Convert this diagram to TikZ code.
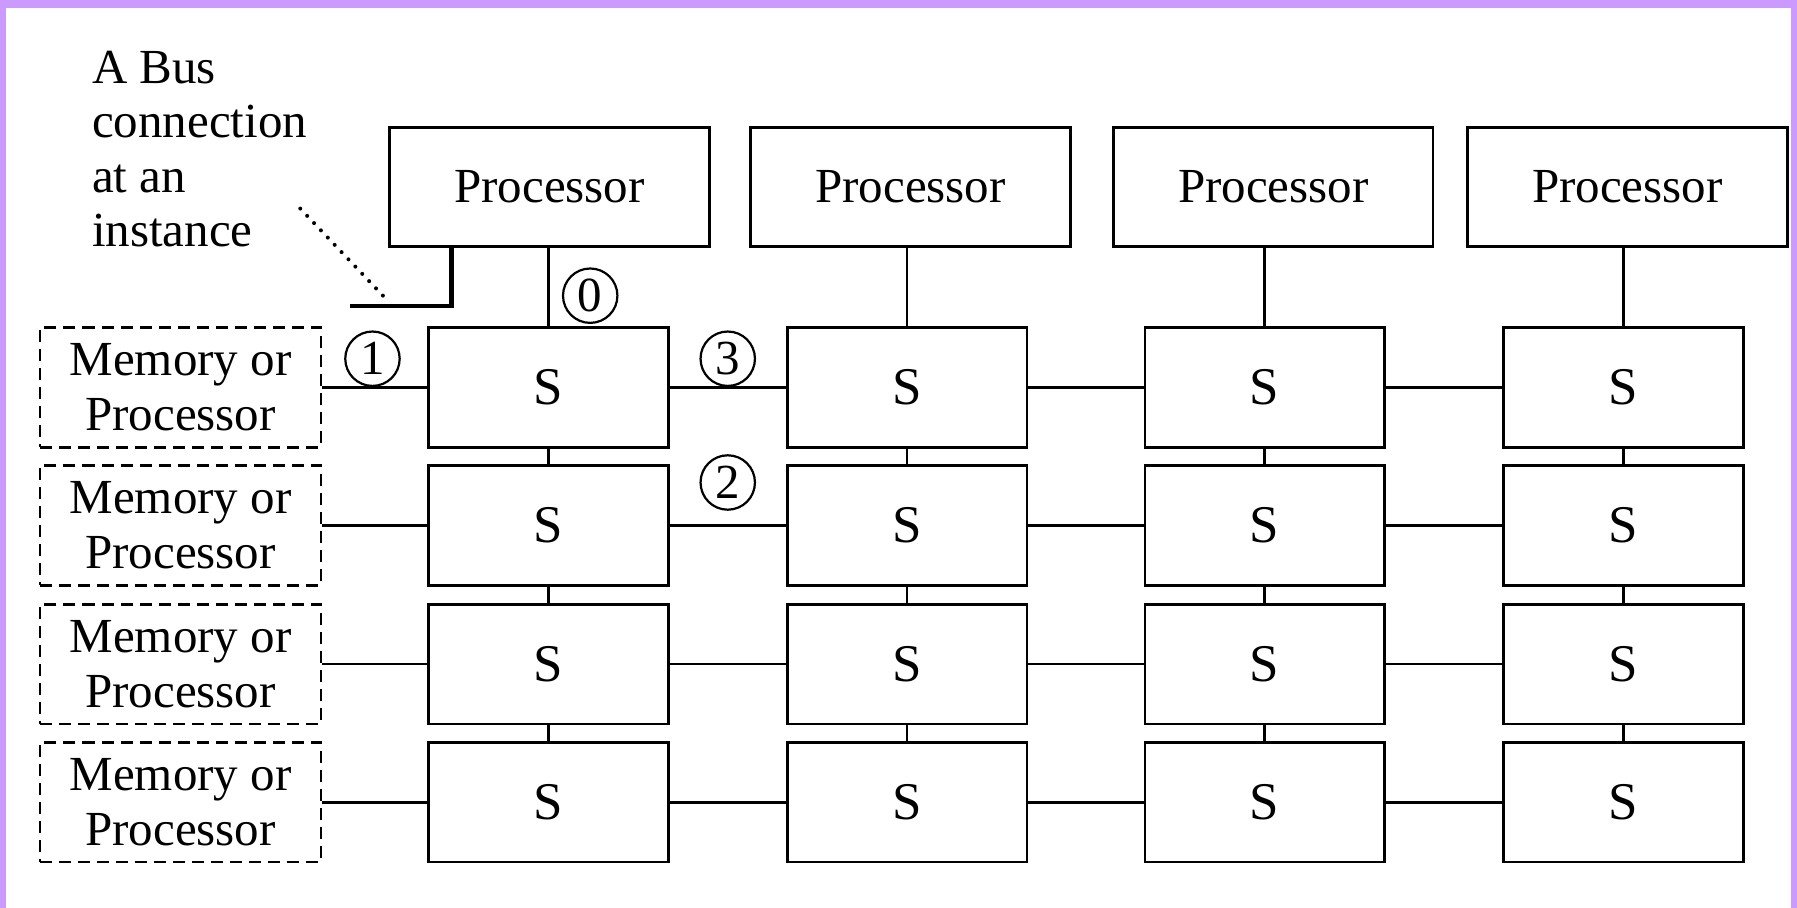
\documentclass[tikz,border=0pt]{standalone}
\usepackage{fontspec}
\setmainfont{Liberation Serif}
\definecolor{framepurple}{RGB}{204,153,255}
\begin{document}
\begin{tikzpicture}[x=0.573pt,y=-0.573pt,
  txt/.style={font=\fontsize{24.5}{27.3}\selectfont},
  box/.style={draw,line width=1.3pt,rectangle,inner sep=0pt,txt},
  proc/.style={box,minimum width=159.9pt,minimum height=59.6pt},
  sw/.style={box,minimum width=119.8pt,minimum height=59.9pt,font=\fontsize{26.5}{28}\selectfont},
  mem/.style={box,dash pattern=on 6pt off 3.5pt,minimum width=140.4pt,minimum height=59.9pt,align=center},
  tag/.style={circle,draw,line width=1.1pt,minimum size=27.2pt,inner sep=0pt,txt},
  wire/.style={line width=1.3pt},
  bus/.style={line width=2.2pt},
  leader/.style={line width=2pt,dash pattern=on 0pt off 5pt,line cap=round}]

% page and purple frame
\fill[white] (0,0) rectangle (1568,792);
\fill[framepurple] (0,0) rectangle (1568,7);
\fill[framepurple] (0,0) rectangle (5,792);
\fill[framepurple] (1563,0) rectangle (1568,792);
\useasboundingbox (0,0) rectangle (1568,792);

% processors along the top
\foreach \c/\x in {1/479.5,2/794.5,3/1111,4/1420}
  \node[proc] (p\c) at (\x,163) {Processor};

% switch grid
\foreach \r/\y in {1/338,2/458.5,3/579.5,4/700}{
  \foreach \c/\x in {1/478.5,2/791.5,3/1103.5,4/1416.5}
    \node[sw] (s\r\c) at (\x,\y) {S};
  \node[mem] (m\r) at (157.5,\y) {Memory or\\Processor};
}

% processor to first switch row
\foreach \c in {1,...,4}
  \draw[wire] (s1\c.north) -- (s1\c.north |- p\c.south);

% row links
\foreach \r in {1,...,4}{
  \draw[wire] (m\r.east) -- (s\r1.west);
  \draw[wire] (s\r1.east) -- (s\r2.west);
  \draw[wire] (s\r2.east) -- (s\r3.west);
  \draw[wire] (s\r3.east) -- (s\r4.west);
}

% column links
\foreach \r [evaluate=\r as \n using int(\r+1)] in {1,2,3}
  \foreach \c in {1,...,4}
    \draw[wire] (s\r\c.south) -- (s\n\c.north);

% bus connection callout
\coordinate (bustop) at (394,215);
\coordinate (busend) at (305,267);
\draw[bus] (bustop) |- (busend);
\node[txt,anchor=north west,align=left,inner sep=0pt] (note) at (80,44)
  {A Bus\\connection\\at an\\instance};
\coordinate (leadA) at (262,182);
\coordinate (leadB) at (337,261);
\draw[leader] (leadA) -- (leadB);

% numbered tags
\node[tag] (t0) at (515,258) {0};
\node[tag] (t1) at (325,313) {1};
\node[tag] (t3) at (635,313) {3};
\node[tag] (t2) at (635,421) {2};
\end{tikzpicture}
\end{document}
